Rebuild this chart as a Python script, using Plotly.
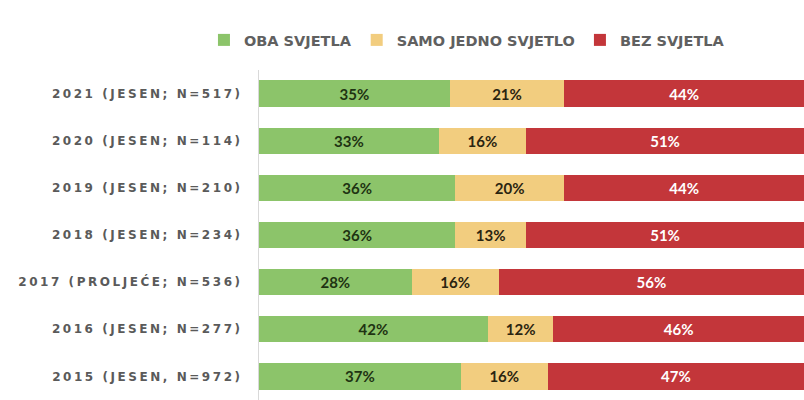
import plotly.graph_objects as go

categories = ["2021 (JESEN; N=517)", "2020 (JESEN; N=114)", "2019 (JESEN; N=210)",
              "2018 (JESEN; N=234)", "2017 (PROLJEĆE; N=536)", "2016 (JESEN; N=277)",
              "2015 (JESEN, N=972)"]
oba = [35, 33, 36, 36, 28, 42, 37]
jedno = [21, 16, 20, 13, 16, 12, 16]
bez = [44, 51, 44, 51, 56, 46, 47]

series = [
    ("OBA SVJETLA", oba, "#8cc46a", "#1e3312"),
    ("SAMO JEDNO SVJETLO", jedno, "#f2cd7f", "#2a2410"),
    ("BEZ SVJETLA", bez, "#c3363a", "#ffffff"),
]

fig = go.Figure()
for name, vals, col, tcol in series:
    fig.add_trace(go.Bar(
        y=categories, x=vals, name=name, orientation="h",
        marker=dict(color=col, line=dict(width=0)),
        text=[f"{v}%" for v in vals], textposition="inside",
        insidetextanchor="middle",
        textfont=dict(family="Lato", size=15, color=tcol, weight="bold"),
        hoverinfo="skip",
    ))

fig.update_layout(
    width=804, height=400,
    barmode="stack", bargap=0.44,
    margin=dict(l=259, r=0, t=70, b=0, autoexpand=False),
    paper_bgcolor="white", plot_bgcolor="white",
    uniformtext=dict(mode="show", minsize=10),
    legend=dict(orientation="h", x=-0.101, xanchor="left", y=1.091, yanchor="middle",
                font=dict(family="DejaVu Sans", size=14.5, color="#606060", weight="bold"),
                itemwidth=30, traceorder="normal"),
    xaxis=dict(range=[0, 100], visible=False),
    yaxis=dict(categoryorder="array", categoryarray=categories[::-1],
               showline=True, linecolor="#d9d9d9", linewidth=1,
               ticks="", ticklabelstandoff=13,
               tickfont=dict(family="DejaVu Sans", size=12, color="#5a5a5a", weight="bold")),
)

# no page margin, and the original tick labels are letter-spaced
js = """
document.body.style.margin = '0';
var gd = document.getElementById('{plot_id}');
gd.querySelectorAll('.ytick text').forEach(function(t){ t.style.letterSpacing = '2.55px'; });
"""
fig.write_html("out.html", post_script=js, config={"displayModeBar": False})
